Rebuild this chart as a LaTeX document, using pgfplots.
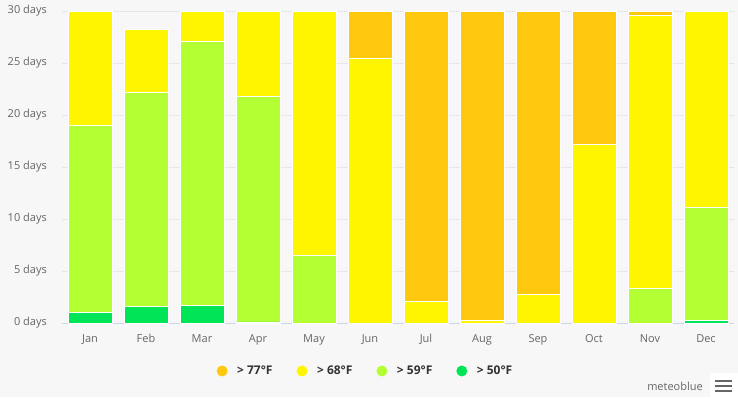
\documentclass[border=0pt]{standalone}
\usepackage{pgfplots}
\pgfplotsset{compat=1.18}
\usepackage{fontspec}
\setmainfont{Open Sans}
\definecolor{bgcol}{RGB}{247,247,247}
\definecolor{gridcol}{RGB}{230,230,230}
\definecolor{axiscol}{RGB}{204,214,235}
\definecolor{tickcol}{RGB}{102,102,102}
\definecolor{legcol}{RGB}{51,51,51}
\definecolor{c77}{RGB}{254,200,15}
\definecolor{c68}{RGB}{255,245,0}
\definecolor{c59}{RGB}{180,255,52}
\definecolor{c50}{RGB}{0,228,88}
\begin{document}
\begin{tikzpicture}[x=1pt,y=1pt]
\fill[bgcol] (0,0) rectangle (738,397);
\begin{axis}[
  at={(62pt,74pt)}, anchor=south west,
  scale only axis, width=672pt, height=312pt,
  xmin=-0.5, xmax=11.5, ymin=0, ymax=30,
  ybar stacked, bar width=44pt,
  axis line style={draw=none},
  major tick length=0pt,
  xtick={0,...,11},
  xticklabels={Jan,Feb,Mar,Apr,May,Jun,Jul,Aug,Sep,Oct,Nov,Dec},
  ytick={0,5,...,30},
  yticklabel={\pgfmathprintnumber{\tick} days},
  /pgf/number format/assume math mode=true,
  ymajorgrids, grid style={draw=gridcol, line width=0.8pt},
  ticklabel style={font=\fontsize{11}{13}\selectfont, text=tickcol},
  xticklabel style={anchor=base, yshift=-19pt},
  yticklabel style={anchor=east, inner sep=0pt, xshift=-15pt},
  every axis plot/.append style={draw=white, line width=0.6pt},
  legend image code/.code={\fill[#1, draw=none] (0pt,0pt) circle (5.5pt);},
  reverse legend,
  legend style={at={(0.2254,-0.1538)}, anchor=west, legend columns=-1,
    draw=none, fill=none,
    font=\bfseries\fontsize{12}{14}\selectfont, text=legcol,
    nodes={inner sep=0pt},
    /tikz/every odd column/.append style={column sep=9.5pt},
    /tikz/every even column/.append style={column sep=24pt}},
]
\addplot[fill=c50] coordinates {(0,1.0)(1,1.6)(2,1.7)(3,0.1)(4,0)(5,0)(6,0)(7,0)(8,0)(9,0)(10,0)(11,0.25)};
\addlegendentry{> 50°F}
\addplot[fill=c59] coordinates {(0,18.0)(1,20.55)(2,25.35)(3,21.7)(4,6.5)(5,0)(6,0)(7,0)(8,0)(9,0)(10,3.3)(11,10.85)};
\addlegendentry{> 59°F}
\addplot[fill=c68] coordinates {(0,11.0)(1,6.05)(2,2.95)(3,8.2)(4,23.5)(5,25.5)(6,2.1)(7,0.25)(8,2.75)(9,17.2)(10,26.3)(11,18.9)};
\addlegendentry{> 68°F}
\addplot[fill=c77] coordinates {(0,0)(1,0)(2,0)(3,0)(4,0)(5,4.5)(6,27.9)(7,29.75)(8,27.25)(9,12.8)(10,0.4)(11,0)};
\addlegendentry{> 77°F}
\draw[axiscol, line width=0.8pt] (rel axis cs:0,0) -- (rel axis cs:1,0);
\end{axis}
\fill[white] (710,0) rectangle (738,24);
\node[anchor=east, inner sep=0pt, text=tickcol, font=\fontsize{11}{13}\selectfont] at (703,11) {meteoblue};
\foreach \yy in {6,11,16} {\draw[tickcol, line width=2.5pt] (715,\yy) -- (732,\yy);}
\end{tikzpicture}
\end{document}
